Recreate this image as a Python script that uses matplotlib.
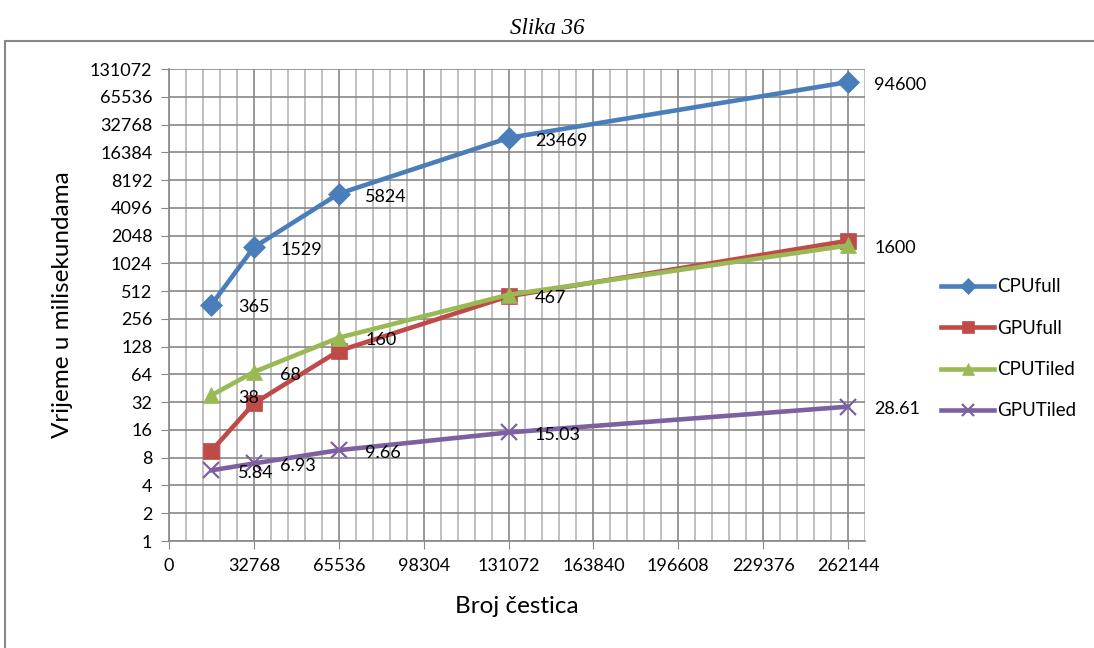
import matplotlib
matplotlib.use("Agg")
import matplotlib.pyplot as plt
from matplotlib.ticker import FixedLocator, MultipleLocator, NullFormatter
from matplotlib.patches import Rectangle

plt.rcParams['font.family'] = ['Lato', 'DejaVu Sans']

# data
broj = [16384, 32768, 65536, 131072, 262144]
cpu_full = [365, 1529, 5824, 23469, 94600]
gpu_full = [9.5, 31, 115, 450, 1800]
cpu_tiled = [38, 68, 160, 467, 1600]
gpu_tiled = [5.84, 6.93, 9.66, 15.03, 28.61]

x_ticks = [0, 32768, 65536, 98304, 131072, 163840, 196608, 229376, 262144]
y_ticks = [2 ** i for i in range(18)]

series = [
    ("CPUfull", cpu_full, "#4A7EBB", "D", 11, True),
    ("GPUfull", gpu_full, "#BE4B48", "s", 11, False),
    ("CPUTiled", cpu_tiled, "#98B954", "^", 12, True),
    ("GPUTiled", gpu_tiled, "#7D60A0", "x", 12, True),
]

fig = plt.figure(figsize=(10.94, 6.48), dpi=100)

# outer chart frame
fig.patches.append(Rectangle((5 / 1094, -0.01), 1.0, 1 - 40.5 / 648 + 0.01,
                             transform=fig.transFigure, fill=False,
                             edgecolor="#878787", lw=1.5))

fig.text(0.5, 1 - 28 / 648, "Slika 36", ha="center", va="center",
         family="Liberation Serif", style="italic", fontsize=16.5)

ax = fig.add_axes([169 / 1094, 1 - 541 / 648, (865 - 169) / 1094, (541 - 69) / 648])

for name, vals, col, mk, ms, lab in series:
    ax.plot(broj, vals, color=col, lw=3.3, marker=mk, markersize=ms,
            mew=1.6 if mk == "x" else 0.5, mec=col, label=name)
    if lab:
        for xv, yv in zip(broj, vals):
            ax.annotate(f"{yv:g}", (xv, yv), xytext=(19, -2),
                        textcoords="offset points", ha="left", va="center",
                        fontsize=13)

ax.set_yscale("log", base=2)
ax.set_ylim(1, 131072)
ax.set_xlim(0, 262144 + 6553.6)
ax.yaxis.set_major_locator(FixedLocator(y_ticks))
ax.set_yticklabels([str(v) for v in y_ticks])
ax.yaxis.set_minor_locator(FixedLocator([]))
ax.xaxis.set_major_locator(FixedLocator(x_ticks))
ax.set_xticklabels([str(v) for v in x_ticks])
ax.xaxis.set_minor_locator(MultipleLocator(6553.6))
ax.xaxis.set_minor_formatter(NullFormatter())

ax.grid(True, which="major", color="#878787", lw=1.2)
ax.grid(True, which="minor", axis="x", color="#b5b5b5", lw=1.2)
ax.set_axisbelow(True)

ax.tick_params(axis="both", which="major", length=6, color="#878787",
               labelsize=13, pad=6)
ax.tick_params(axis="x", which="minor", length=0)
for s in ["top", "right"]:
    ax.spines[s].set_visible(False)
for s in ["left", "bottom"]:
    ax.spines[s].set_color("#878787")
    ax.spines[s].set_linewidth(1.2)

ax.set_ylabel("Vrijeme u milisekundama", fontsize=17.5, labelpad=12)
ax.set_xlabel("Broj čestica", fontsize=17.5, labelpad=16)

leg = fig.legend(loc="upper left", bbox_to_anchor=(932 / 1094, 1 - 269 / 648),
                 frameon=False, fontsize=13.5, handlelength=2.8,
                 handletextpad=0.2, labelspacing=1.3, borderpad=0)
for h in leg.legend_handles:
    h.set_markersize(8)

fig.savefig("out.png", dpi=100)
